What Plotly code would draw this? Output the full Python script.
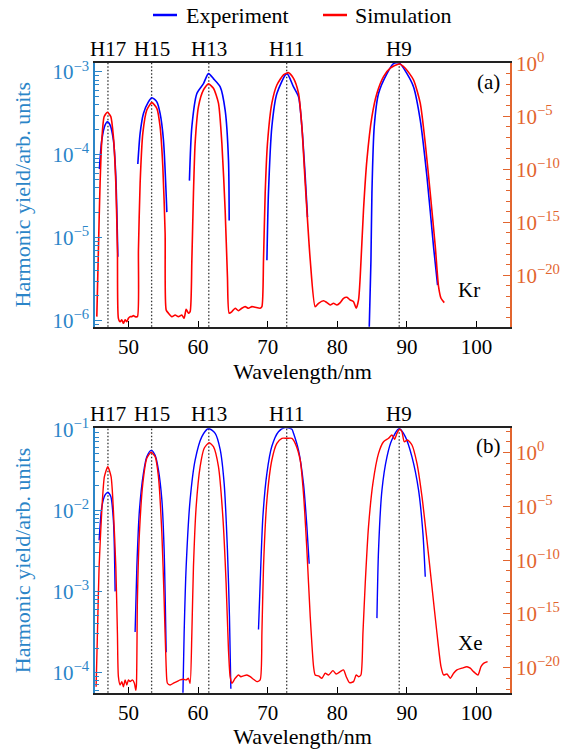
import plotly.graph_objects as go

# ---------------- data ----------------
harm_labels = ["H17", "H15", "H13", "H11", "H9"]
harm_wl = [47.06, 53.33, 61.54, 72.73, 88.89]

# Panel (a) Kr -- experiment (left axis), log10 of yield, None separates harmonic segments
kr_exp_wl = [45.83, 46.18, 46.65, 46.98, 47.37, 47.84, 48.19, 48.48, None,
             51.35, 51.68, 52.16, 52.87, 53.36, 54.08, 54.55, 55.03, 55.52, None,
             58.76, 59.11, 59.83, 60.78, 61.49, 62.21, 63.18, 63.89, 64.37, 64.47, None,
             69.89, 70.11, 70.60, 71.32, 72.76, 73.71, 74.43, 74.91, 75.39, 75.72, None,
             84.55, 84.83, 84.97, 85.30, 85.92, 87.13, 88.07, 88.89, 90.00, 90.95, 91.91, 92.87, 93.82, 94.40]
kr_exp_log = [-4.17, -3.82, -3.64, -3.60, -3.64, -3.82, -4.26, -5.23, None,
              -4.11, -3.74, -3.50, -3.36, -3.31, -3.36, -3.50, -3.82, -4.69, None,
              -4.31, -3.66, -3.26, -3.14, -3.02, -3.08, -3.18, -3.46, -4.06, -4.79, None,
              -5.27, -4.46, -3.66, -3.26, -3.02, -3.18, -3.30, -3.66, -4.26, -4.75, None,
              -6.20, -5.27, -4.46, -3.66, -3.26, -3.02, -2.90, -2.89, -3.02, -3.18, -3.58, -4.26, -5.11, -5.57]

# Panel (a) Kr -- simulation (right axis), log10 of yield
kr_sim_wl = [45.46, 45.69, 45.93, 46.18, 46.51, 46.98, 47.47, 47.84, 48.19, 48.42, 48.56,
             48.81, 49.05, 49.28, 49.53, 49.77, 50.00, 50.24, 50.49, 50.72, 50.96, 51.29,
             51.44, 51.68, 52.07, 52.64, 53.36, 54.08, 54.55, 54.94, 55.27, 55.42,
             55.75, 56.24, 56.71, 57.18, 57.67, 58.00, 58.29, 58.62, 58.86,
             59.11, 59.34, 59.58, 60.06, 60.78, 61.49, 62.21, 62.93, 63.42, 63.89, 64.22, 64.47,
             64.86, 65.33, 65.80, 66.29, 66.77, 67.24, 67.73, 68.20, 68.92, 69.17,
             69.40, 69.64, 69.97, 70.60, 71.32, 72.27, 72.99, 73.71, 74.43, 74.91, 75.39, 76.11, 76.82,
             77.30, 78.02, 78.51, 78.98, 79.45, 79.94, 80.42, 80.89, 81.38, 81.85, 82.33, 82.71, 83.05,
             83.29, 83.76, 84.25, 84.97, 85.69, 86.64, 87.60, 88.89, 89.76, 90.95, 91.91, 92.63,
             93.35, 94.07, 94.54, 94.89, 95.36]
kr_sim_log = [-23.90, -17.61, -11.32, -7.24, -5.04, -4.62, -5.04, -6.92, -11.32, -17.61, -24.06,
              -24.38, -24.20, -24.53, -24.20, -24.38, -24.06, -23.90, -23.90, -23.81, -23.90, -23.90,
              -17.61, -11.32, -6.60, -4.41, -3.72, -4.25, -5.98, -9.75, -16.04, -23.27,
              -23.58, -23.90, -23.75, -23.90, -23.75, -24.06, -23.21, -23.58, -23.43,
              -18.56, -12.26, -7.55, -4.09, -2.52, -1.95, -2.36, -3.77, -7.55, -13.84, -20.13, -23.58,
              -23.43, -23.11, -23.34, -23.11, -22.96, -23.11, -22.96, -23.02, -23.11, -22.96,
              -18.56, -12.26, -7.55, -3.77, -2.05, -1.10, -0.89, -1.42, -2.83, -5.98, -11.32, -18.56, -22.96,
              -22.64, -22.40, -22.58, -22.80, -22.64, -22.80, -22.58, -22.17, -22.08, -22.33, -22.49, -23.11, -22.33,
              -20.13, -13.84, -9.12, -5.04, -2.83, -1.26, -0.47, -0.07, -0.47, -1.58, -3.77, -7.55,
              -12.26, -17.30, -21.08, -22.17, -22.58]

# Panel (b) Xe -- experiment (left axis), log10 of yield
xe_exp_wl = [45.79, 46.18, 46.65, 47.04, 47.47, 47.84, 47.99, 48.09, None,
             50.96, 51.21, 51.58, 52.16, 52.64, 53.26, 53.84, 54.31, 54.80, 55.13, 55.42, None,
             57.82, 58.00, 58.29, 58.86, 59.58, 60.55, 61.49, 62.46, 63.18, 63.75, 64.22, 64.51, 64.71, None,
             68.68, 68.92, 69.31, 69.89, 70.60, 71.55, 72.51, 73.48, 73.71, 74.43, 75.14, 75.63, 75.96, None,
             85.69, 85.92, 86.41, 87.13, 87.84, 88.89, 89.76, 90.72, 91.67, 92.30, 92.63]
xe_exp_log = [-2.37, -1.96, -1.81, -1.78, -1.83, -2.12, -2.49, -3.00, None,
              -3.50, -2.70, -2.00, -1.54, -1.34, -1.26, -1.32, -1.50, -1.87, -2.49, -3.75, None,
              -4.30, -3.52, -2.70, -1.87, -1.38, -1.09, -0.99, -1.05, -1.25, -1.67, -2.49, -3.31, -4.20, None,
              -3.47, -2.90, -2.08, -1.54, -1.21, -1.03, -0.98, -1.00, -1.05, -1.26, -1.67, -2.20, -2.66, None,
              -3.33, -2.49, -1.75, -1.34, -1.13, -0.99, -1.09, -1.34, -1.75, -2.29, -2.82]

# Panel (b) Xe -- simulation (right axis), log10 of yield
xe_sim_wl = [45.36, 45.55, 45.79, 46.18, 46.55, 47.04, 47.51, 47.84, 48.19, 48.42, 48.56,
             48.81, 49.05, 49.28, 49.53, 49.77, 50.00, 50.24, 50.57, 50.86, 51.05, 51.15,
             51.29, 51.58, 52.07, 52.64, 53.26, 53.84, 54.31, 54.80, 55.13, 55.42,
             55.60, 55.99, 56.47, 56.95, 57.43, 57.90, 58.29, 58.62, 58.86,
             59.11, 59.34, 59.73, 60.30, 60.88, 61.59, 62.21, 62.93, 63.56, 64.03, 64.37, 64.61,
             64.86, 65.33, 65.80, 66.15, 66.52, 67.01, 67.49, 67.96, 68.45, 68.92,
             69.17, 69.40, 69.89, 70.60, 71.32, 72.04, 72.76, 73.48, 73.95, 74.67, 75.14, 75.63, 76.11, 76.59, 76.82,
             77.30, 77.79, 78.26, 78.74, 79.37, 79.84, 80.42, 80.89, 81.28, 81.75, 82.33, 82.71, 83.05, 83.39,
             83.68, 84.01, 84.48, 85.11, 85.92, 86.64, 87.36, 87.84, 88.22, 88.56, 88.94, 89.28, 89.61,
             90.09, 90.72, 91.44, 92.16, 92.87, 93.59, 94.31, 94.89, 95.26,
             95.75, 96.22, 96.70, 97.18, 97.90, 98.62, 99.09, 99.57, 100.20, 100.63, 101.00, 101.58]
xe_sim_log = [-21.77, -16.80, -10.60, -5.33, -2.23, -1.30, -2.23, -5.33, -10.60, -16.80, -20.84,
              -21.61, -21.30, -21.77, -21.14, -21.61, -21.14, -21.30, -21.14, -21.45, -22.10, -21.60,
              -13.70, -7.50, -2.85, -0.52, 0.04, -0.37, -2.23, -7.50, -13.70, -19.90,
              -21.45, -21.61, -21.45, -21.30, -21.14, -21.08, -21.14, -20.99, -21.45,
              -16.80, -10.60, -5.02, -1.30, 0.41, 0.93, 0.56, -1.30, -5.95, -12.15, -18.35, -20.84,
              -21.45, -20.99, -20.68, -20.84, -20.77, -20.68, -20.84, -21.08, -21.30, -21.14,
              -16.80, -10.60, -4.40, -0.68, 0.87, 1.34, 1.34, 1.34, 0.87, -0.68, -3.78, -9.05, -15.26, -19.91, -20.68,
              -20.77, -20.99, -20.52, -20.68, -20.28, -20.59, -20.37, -20.21, -20.84, -21.40, -21.30, -20.68, -20.84, -20.68,
              -16.80, -12.15, -6.88, -2.85, -0.06, 1.02, 1.34, 1.65, 1.25, 1.80, 2.18, 1.95, 1.02,
              1.18, 0.72, -0.99, -4.09, -8.12, -12.47, -16.80, -19.91, -20.68,
              -20.59, -20.99, -20.52, -20.21, -20.05, -19.91, -20.05, -20.37, -20.68, -19.91, -19.60, -19.44]


def pw(vals):
    return [None if v is None else 10 ** v for v in vals]


# ---------------- styling ----------------
FONT = "Liberation Serif"
BLUE_AX = "#2b85c8"
ORANGE_AX = "#e2652f"
W, H = 579, 749
XDOM = [95 / W, 510 / W]
YDOM_A = [1 - 326.7 / H, 1 - 62.7 / H]
YDOM_B = [1 - 692.7 / H, 1 - 428.3 / H]


def sup(k):
    s = str(k).replace("-", "\u2212")
    return f"10<sup>{s}</sup>"


def left_axis(domain, lo_dec, hi_dec, rng):
    major = [10.0 ** k for k in range(lo_dec, hi_dec + 1)]
    minor = [m * 10.0 ** k for k in range(lo_dec - 1, hi_dec + 1) for m in range(2, 10)]
    return dict(type="log", domain=domain, range=rng,
                tickmode="array", tickvals=major, ticktext=[sup(k) for k in range(lo_dec, hi_dec + 1)],
                ticks="inside", ticklen=7, tickwidth=1.3, tickcolor=BLUE_AX,
                minor=dict(tickmode="array", tickvals=minor, ticks="inside", ticklen=4,
                           tickwidth=1, tickcolor=BLUE_AX),
                showline=True, linecolor=BLUE_AX, linewidth=1.5, mirror=False,
                showgrid=False, zeroline=False,
                tickfont=dict(family=FONT, size=21, color=BLUE_AX),
                title=dict(text="Harmonic yield/arb. units", standoff=16,
                           font=dict(family=FONT, size=22, color=BLUE_AX)),
                automargin=False)


def right_axis(overlay, lo, rng):
    majors = [k for k in range(lo, 1) if k % 5 == 0]
    minors = [10.0 ** k for k in range(lo - 5, 3) if k % 5 != 0]
    return dict(type="log", overlaying=overlay, side="right", range=rng,
                tickmode="array", tickvals=[10.0 ** k for k in majors], ticktext=[sup(k) for k in majors],
                ticks="inside", ticklen=7, tickwidth=1.3, tickcolor=ORANGE_AX,
                minor=dict(tickmode="array", tickvals=minors, ticks="inside", ticklen=4,
                           tickwidth=1, tickcolor=ORANGE_AX),
                showline=True, linecolor=ORANGE_AX, linewidth=1.5,
                showgrid=False, zeroline=False,
                tickfont=dict(family=FONT, size=21, color=ORANGE_AX),
                automargin=False)


def x_axis(anchor):
    return dict(domain=XDOM, anchor=anchor, range=[45.2, 104.8],
                tickmode="array", tickvals=[50, 60, 70, 80, 90, 100],
                ticks="inside", ticklen=6, tickwidth=1.3, tickcolor="black",
                showline=True, linecolor="#222", linewidth=1.5, mirror=True,
                showgrid=False, zeroline=False,
                tickfont=dict(family=FONT, size=21, color="black"),
                title=dict(text="Wavelength/nm", standoff=2, font=dict(family=FONT, size=22, color="black")),
                automargin=False)


fig = go.Figure()
line_kw = dict(mode="lines", showlegend=False, hoverinfo="skip", connectgaps=False)
fig.add_trace(go.Scatter(x=kr_exp_wl, y=pw(kr_exp_log), xaxis="x", yaxis="y",
                         line=dict(color="blue", width=1.6, shape="spline", smoothing=0.7), **line_kw))
fig.add_trace(go.Scatter(x=kr_sim_wl, y=pw(kr_sim_log), xaxis="x", yaxis="y2",
                         line=dict(color="red", width=1.6, shape="spline", smoothing=0.6), **line_kw))
fig.add_trace(go.Scatter(x=xe_exp_wl, y=pw(xe_exp_log), xaxis="x2", yaxis="y3",
                         line=dict(color="blue", width=1.4, shape="spline", smoothing=0.7), **line_kw))
fig.add_trace(go.Scatter(x=xe_sim_wl, y=pw(xe_sim_log), xaxis="x2", yaxis="y4",
                         line=dict(color="red", width=1.4, shape="spline", smoothing=0.6), **line_kw))

shapes = []
annotations = []
for xr, yr in (("x", "y"), ("x2", "y3")):
    for lab, wl in zip(harm_labels, harm_wl):
        shapes.append(dict(type="line", xref=xr, yref=f"{yr} domain", x0=wl, x1=wl, y0=0, y1=1,
                           line=dict(color="#333", width=1.3, dash="1.5px,2px"), layer="below"))
        annotations.append(dict(text=lab, xref=xr, yref=f"{yr} domain", x=wl, y=1, yanchor="bottom",
                                xanchor="center", yshift=0, showarrow=False,
                                font=dict(family=FONT, size=21, color="black")))

# panel tags
tag_font = dict(family=FONT, size=21, color="black")
for txt, px, py in (("(a)", 488, 82), ("Kr", 469, 290), ("(b)", 488, 446), ("Xe", 470, 643)):
    annotations.append(dict(text=txt, xref="paper", yref="paper", x=px / W, y=1 - py / H,
                            xanchor="center", yanchor="middle", showarrow=False, font=tag_font))

# legend drawn at top
leg_y = 1 - 15 / H
shapes += [
    dict(type="line", xref="paper", yref="paper", x0=153 / W, x1=177 / W, y0=leg_y, y1=leg_y,
         line=dict(color="blue", width=2.5)),
    dict(type="line", xref="paper", yref="paper", x0=323 / W, x1=347 / W, y0=leg_y, y1=leg_y,
         line=dict(color="red", width=2.5)),
]
annotations += [
    dict(text="Experiment", xref="paper", yref="paper", x=184 / W, y=leg_y, xanchor="left",
         yanchor="middle", showarrow=False, font=dict(family=FONT, size=22, color="black")),
    dict(text="Simulation", xref="paper", yref="paper", x=353 / W, y=leg_y, xanchor="left",
         yanchor="middle", showarrow=False, font=dict(family=FONT, size=22, color="black")),
]

fig.update_layout(
    width=W, height=H,
    margin=dict(l=0, r=0, t=0, b=0),
    paper_bgcolor="white", plot_bgcolor="white",
    showlegend=False,
    xaxis=x_axis("y"),
    yaxis=left_axis(YDOM_A, -6, -3, [-6.072, -2.888]),
    yaxis2=right_axis("y", -20, [-24.85, 0.05]),
    xaxis2=x_axis("y3"),
    yaxis3=left_axis(YDOM_B, -4, -1, [-4.25, -0.988]),
    yaxis4=right_axis("y3", -20, [-22.33, 2.27]),
    shapes=shapes,
    annotations=annotations,
)
fig.layout.yaxis.anchor = "x"
fig.layout.yaxis3.anchor = "x2"
fig.layout.yaxis2.anchor = "x"
fig.layout.yaxis4.anchor = "x2"

fig.write_html("out.html", config={"displayModeBar": False},
               post_script="document.body.style.margin='0';document.body.style.overflow='hidden';")
